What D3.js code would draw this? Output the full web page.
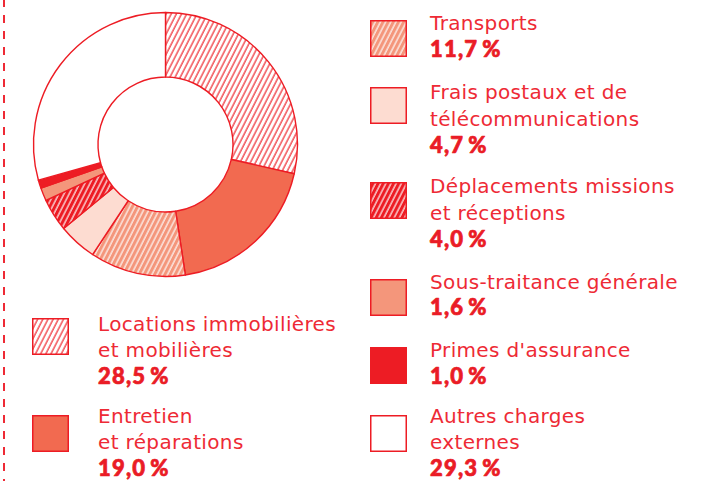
<!DOCTYPE html>
<html lang="fr">
<head>
<meta charset="utf-8">
<script src="https://cdn.jsdelivr.net/npm/d3@7/dist/d3.min.js"></script>
<style>
  html, body { margin: 0; padding: 0; background: #ffffff; }
  svg { display: block; }
  .lbl { font-family: "DejaVu Sans", sans-serif; font-size: 20px; letter-spacing: 0.35px; fill: #ee2a35; }
  .pct { font-family: Lato, sans-serif; font-size: 22px; font-weight: 900; letter-spacing: 1.2px;
         fill: #ea1c26; stroke: #ea1c26; stroke-width: 0.7px; stroke-linejoin: round; }
</style>
</head>
<body>
<svg id="chart" width="710" height="481"></svg>
<script>
// Répartition des charges externes
const categories = [
  "Locations immobilières et mobilières",
  "Entretien et réparations",
  "Transports",
  "Frais postaux et de télécommunications",
  "Déplacements missions et réceptions",
  "Sous-traitance générale",
  "Primes d'assurance",
  "Autres charges externes"
];
const legendLines = [
  ["Locations immobilières", "et mobilières"],
  ["Entretien", "et réparations"],
  ["Transports"],
  ["Frais postaux et de", "télécommunications"],
  ["Déplacements missions", "et réceptions"],
  ["Sous-traitance générale"],
  ["Primes d'assurance"],
  ["Autres charges", "externes"]
];
const values = [28.5, 19.0, 11.7, 4.7, 4.0, 1.6, 1.0, 29.3];

const RED = "#ed1c24";
const fills = ["url(#hatch-white)", "#f26a50", "url(#hatch-salmon)", "#fddcd1",
               "url(#hatch-red)", "#f4967b", RED, "#ffffff"];

// legend slots: swatch position, text offset and first baseline for each entry
const legendSlots = [
  { x: 32, y: 318, tx: 66, ty: 12.5 }, { x: 32, y: 415, tx: 66, ty: 7.5 },
  { x: 370, y: 20, tx: 60, ty: 10 }, { x: 370, y: 87, tx: 60, ty: 12 },
  { x: 370, y: 182, tx: 60, ty: 11 }, { x: 370, y: 279, tx: 60, ty: 9.5 },
  { x: 370, y: 347, tx: 60, ty: 10 }, { x: 370, y: 415, tx: 60, ty: 7.5 }
];

const svg = d3.select("#chart");
const defs = svg.append("defs");

function hatch(id, bg, line) {
  const p = defs.append("pattern")
    .attr("id", id)
    .attr("patternUnits", "userSpaceOnUse")
    .attr("width", 4.6).attr("height", 10)
    .attr("patternTransform", "rotate(27)");
  p.append("rect").attr("width", 4.6).attr("height", 10).attr("fill", bg);
  p.append("line").attr("x1", 1).attr("x2", 1).attr("y1", 0).attr("y2", 10)
    .attr("stroke", line).attr("stroke-width", 1.15);
}
hatch("hatch-white", "#ffffff", RED);
hatch("hatch-salmon", "#f4967b", "#ffffff");
hatch("hatch-red", RED, "#ffffff");

// dashed separator on the left edge
svg.append("line")
  .attr("x1", 4).attr("x2", 4).attr("y1", 0).attr("y2", 481)
  .attr("stroke", "#ee2a35").attr("stroke-width", 2)
  .attr("stroke-dasharray", "8 8").attr("stroke-dashoffset", 1);

// donut
const cx = 165.5, cy = 144.5, rOuter = 132, rInner = 67.5;
const pie = d3.pie().sort(null).value(d => d);
const arc = d3.arc().innerRadius(rInner).outerRadius(rOuter);

const g = svg.append("g").attr("transform", `translate(${cx},${cy})`);
g.selectAll("path.slice")
  .data(pie(values))
  .join("path")
  .attr("class", "slice")
  .attr("d", arc)
  .attr("fill", (d, i) => fills[i])
  .attr("stroke", RED)
  .attr("stroke-width", 1.4)
  .attr("stroke-linejoin", "round");

// legend
const fmt = v => d3.format(".1f")(v).replace(".", ",") + "\u2009%";
const lineH = 26.8;

const items = svg.selectAll("g.item")
  .data(categories)
  .join("g")
  .attr("class", "item")
  .attr("transform", (d, i) => `translate(${legendSlots[i].x},${legendSlots[i].y})`);

items.append("rect")
  .attr("x", 0.75).attr("y", 0.75)
  .attr("width", 35.5).attr("height", 35.5)
  .attr("fill", (d, i) => fills[i])
  .attr("stroke", RED).attr("stroke-width", 1.5);

items.each(function (d, i) {
  const it = d3.select(this);
  const { tx, ty } = legendSlots[i];
  const lines = legendLines[i];
  lines.forEach((t, k) => {
    it.append("text").attr("class", "lbl")
      .attr("x", tx).attr("y", ty + k * lineH)
      .text(t);
  });
  it.append("text").attr("class", "pct")
    .attr("x", tx).attr("y", ty + lines.length * lineH)
    .text(fmt(values[i]));
});
</script>
</body>
</html>
